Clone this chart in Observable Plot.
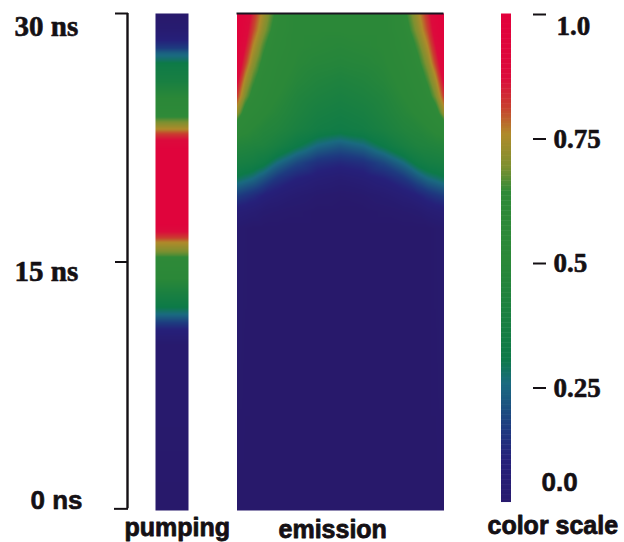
<!DOCTYPE html>
<html><head><meta charset="utf-8">
<script src="https://cdn.jsdelivr.net/npm/d3@7"></script>
<script src="https://cdn.jsdelivr.net/npm/@observablehq/plot@0.6"></script>
<style>html,body{margin:0;background:#fff}#c{position:relative;width:624px;height:542px}#c svg{position:absolute;left:0;top:0;background:transparent}</style>
</head><body><div id="c"></div>
<script>
// colour scale
const colorStops = [0, .1, .165, .255, .305, .5, .64, .69, .757, .81, .87, 1];
const colorHex = ["#28196b","#26207a","#1e3a80","#1a6a80","#0d7a48","#2b8838","#2f8a38","#7d9030","#b08a2a","#c8402f","#dc0b3c","#e2003c"];
// pumping pulse: time (ns) and normalised intensity
const pumpTimes = [0,10,10.9,11.4,11.8,12.3,13,14,15,15.4,15.8,16.2,16.5,16.9,17.3,21.8,22.3,22.7,23,23.3,23.7,24.3,25.1,25.9,26.9,27.2,27.6,27.9,28.4,29,30];
const pumpValues = [0,.02,.1,.18,.25,.31,.38,.5,.58,.66,.71,.76,.82,.88,.95,.95,.88,.82,.76,.71,.65,.55,.48,.38,.32,.28,.24,.17,.1,.04,0];
// emission: half of the symmetric map, distance from edge vs time
const emissionEdge = [0,8,16,26,40,60,80,103];
const emissionTimes = [30,29,28,27,26,25,24,23,22,21,20,19,18,17,0];
const emissionValues = [
[.98,.93,.84,.74,.62,.50,.50,.50],
[.97,.91,.81,.71,.59,.50,.50,.50],
[.96,.87,.76,.66,.56,.50,.49,.48],
[.94,.82,.71,.62,.54,.49,.47,.46],
[.89,.75,.66,.58,.52,.47,.44,.42],
[.82,.69,.61,.55,.50,.44,.41,.39],
[.72,.60,.55,.51,.47,.42,.38,.36],
[.56,.52,.49,.46,.44,.39,.35,.33],
[.45,.44,.43,.42,.38,.31,.25,.22],
[.38,.37,.36,.33,.26,.19,.14,.12],
[.29,.27,.25,.21,.15,.10,.07,.05],
[.17,.15,.13,.10,.07,.04,.02,.01],
[.07,.06,.05,.03,.02,.01,0,0],
[.02,.01,0,0,0,0,0,0],
[0,0,0,0,0,0,0,0]];
const timeTicks = [0,15,30];
const scaleTicks = [.25,.5,.75,1];
const scaleValues = d3.range(0.02,0.9951,0.005);

const eL=236.5,eR=443.5,pL=155,pR=188,bL=501,bR=511;
const color = {type:"linear",domain:colorStops,range:colorHex,interpolate:"rgb",clamp:true};
const emission=[];
emissionTimes.forEach((t,i)=>emissionEdge.forEach((d,j)=>{
  emission.push({x:eL+d/103*(eR-eL)/2,t,v:emissionValues[i][j]});
  if(d<103) emission.push({x:eR-d/103*(eR-eL)/2,t,v:emissionValues[i][j]});
}));
const pump=[];
pumpTimes.forEach((t,i)=>{pump.push({x:pL,t,v:pumpValues[i]});pump.push({x:pR,t,v:pumpValues[i]});});
const serif="Liberation Serif",sans="Liberation Sans",ink="#141014";
const base={width:624,height:542,margin:0,x:{domain:[0,624],range:[0,624],axis:null},style:{background:"transparent"}};
const label=(font,size,w=.6)=>({textAnchor:"start",fontFamily:font,fontWeight:"bold",fontSize:size,fill:ink,stroke:ink,strokeWidth:w});

const main=Plot.plot({...base,
  y:{domain:[0,30],range:[510,13],axis:null},
  color,
  marks:[
    Plot.raster(pump,{x:"x",y:"t",fill:"v",x1:pL,x2:pR,y1:0,y2:30,interpolate:"barycentric"}),
    Plot.raster(emission,{x:"x",y:"t",fill:"v",x1:eL,x2:eR,y1:0,y2:30,interpolate:"barycentric"}),
    Plot.ruleY([30],{x1:eL,x2:eR,stroke:"#1a1420",strokeWidth:2}),
    Plot.ruleX([127],{y1:.1,y2:30,stroke:ink,strokeWidth:2.4}),
    Plot.ruleY([30,15],{x1:115,x2:128,stroke:ink,strokeWidth:2}),
    Plot.ruleY([.1],{x1:114,x2:128,stroke:ink,strokeWidth:2}),
    Plot.text([30],{x:14,y:d=>d,dy:13,text:d=>`${d} ns`,...label(serif,29)}),
    Plot.text([15],{x:14,y:d=>d,dy:10,text:d=>`${d} ns`,...label(serif,29)}),
    Plot.text([0],{x:30,y:d=>d,dy:-10,text:d=>`${d} ns`,...label(sans,26)}),
    Plot.text(["pumping"],{x:124,y:0,dy:17,text:d=>d,...label(sans,25,.8)}),
    Plot.text(["emission"],{x:278,y:0,dy:19,text:d=>d,...label(sans,25,.8)}),
    Plot.text(["color scale"],{x:487,y:0,dy:15,text:d=>d,...label(sans,25,.8)})
  ]});
document.getElementById("c").append(main);

const bar=Plot.plot({...base,
  y:{domain:[0,1],range:[512,14],axis:null},
  color,
  marks:[
    Plot.rect(scaleValues,{x1:bL,x2:bR,y1:d=>d,y2:d=>d+.006,fill:d=>d}),
    Plot.ruleY(scaleTicks,{x1:533,x2:546,stroke:ink,strokeWidth:2}),
    Plot.text([1],{x:556,y:d=>d,dy:12,text:()=>"1.0",...label(serif,27)}),
    Plot.text([.75,.5,.25],{x:553,y:d=>d,text:d=>String(d),...label(serif,27)}),
    Plot.text([0.06],{x:541,y:d=>d,text:()=>"0.0",...label(sans,26)})
  ]});
document.getElementById("c").append(bar);
</script></body></html>
